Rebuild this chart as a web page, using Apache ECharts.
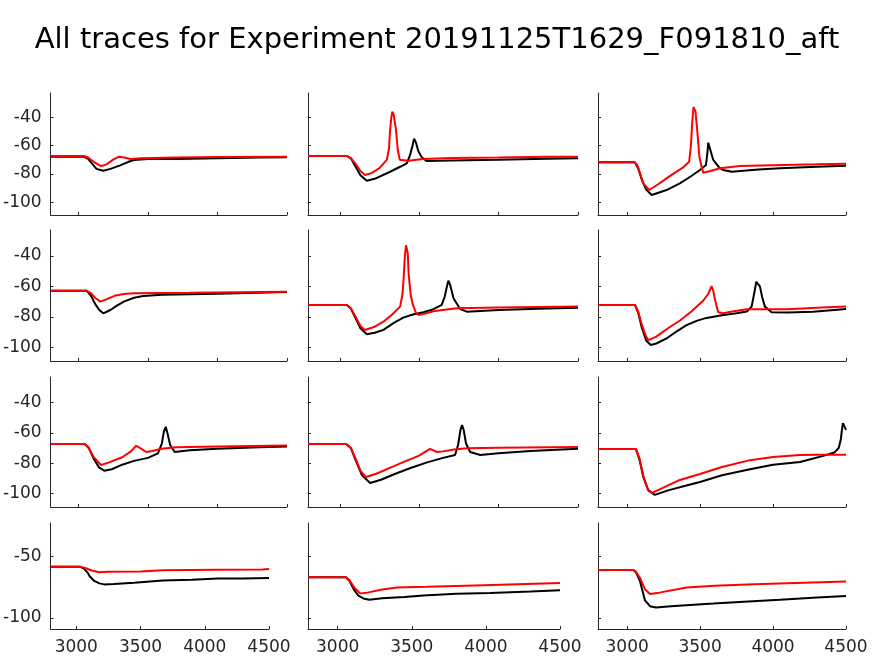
<!DOCTYPE html>
<html>
<head>
<meta charset="utf-8">
<script src="https://cdn.jsdelivr.net/npm/echarts@6/dist/echarts.min.js"></script>
<style>
html,body{margin:0;padding:0;background:#fff;}
#chart{width:874px;height:656px;}
</style>
</head>
<body>
<div id="chart"></div>
<script>
const titleText = "All traces for Experiment 20191125T1629_F091810_aft";
const xTicks = [3000, 3500, 4000, 4500];
const yTicksTop = [-100, -80, -60, -40];
const yTicksBottom = [-100, -50];

const black1 = [[2800,-68],[3040,-68],[3070,-69.5],[3100,-73],[3130,-76.5],[3179,-77.8],[3230,-76.5],[3300,-74],[3360,-71.5],[3400,-70.2],[3500,-69.5],[3700,-69.5],[4000,-69],[4300,-68.5],[4500,-68.3]];
const red1 = [[2800,-67.4],[3040,-67.4],[3070,-68.5],[3110,-71.5],[3163,-74.5],[3200,-73.5],[3250,-70],[3291,-67.9],[3330,-68.5],[3373,-69.5],[3450,-69],[3700,-68.5],[4000,-68.2],[4500,-67.9]];

const black2 = [[2800,-67.4],[3044,-67.4],[3070,-69],[3100,-75],[3130,-81],[3170,-84.8],[3220,-83.5],[3317,-78.5],[3380,-75],[3422,-72.6],[3443,-66.7],[3458,-60],[3468,-55.2],[3480,-58],[3495,-64],[3516,-68.3],[3548,-71],[3700,-70.5],[4000,-70],[4300,-69.3],[4500,-69]];
const red2 = [[2800,-67.4],[3044,-67.4],[3070,-69],[3100,-73],[3130,-78],[3159,-80.8],[3200,-79.5],[3250,-76],[3296,-70.2],[3310,-62],[3317,-49],[3325,-40],[3331,-36.2],[3340,-38.5],[3354,-49],[3365,-63],[3378,-70],[3390,-71.4],[3430,-70.8],[3525,-69.5],[3700,-68.8],[4000,-68.5],[4300,-68],[4500,-67.9]];

const black3 = [[2800,-71.9],[3053,-71.9],[3075,-76],[3100,-84],[3130,-91],[3168,-94.9],[3270,-91.4],[3361,-86.7],[3440,-81.5],[3499,-77.3],[3540,-73.8],[3550,-65],[3556,-58],[3565,-59],[3590,-70.2],[3630,-75.5],[3659,-77.3],[3716,-78.5],[3900,-77],[4047,-76],[4300,-75],[4500,-74.3]];
const red3 = [[2800,-71.9],[3053,-71.9],[3070,-74],[3088,-79.4],[3110,-86.7],[3151,-91.4],[3210,-87.5],[3270,-83.2],[3330,-79],[3384,-75.4],[3425,-71.4],[3437,-60],[3445,-45],[3455,-33],[3460,-32],[3468,-36],[3480,-49],[3495,-68],[3510,-75],[3521,-79.2],[3570,-78],[3636,-76],[3773,-74.5],[4000,-74],[4300,-73.3],[4500,-72.8]];

const black4 = [[2800,-62.8],[3058,-62.8],[3090,-66],[3120,-71.5],[3150,-75.5],[3179,-77.7],[3230,-75.5],[3280,-72.5],[3327,-70],[3400,-67.5],[3467,-66.3],[3600,-65.5],[4000,-64.8],[4500,-63.7]];
const red4 = [[2800,-62.8],[3058,-62.8],[3090,-64.5],[3120,-67.5],[3158,-70],[3200,-68.5],[3260,-66.2],[3327,-65],[3400,-64.5],[3800,-64.2],[4500,-63.5]];

const black5 = [[2800,-72.2],[3044,-72.2],[3070,-74.5],[3100,-81],[3130,-87.5],[3170,-91.4],[3220,-90.5],[3275,-88.6],[3340,-84],[3400,-80.5],[3460,-78.5],[3527,-77],[3590,-75],[3642,-72.2],[3660,-67],[3675,-60],[3684,-56.3],[3695,-59],[3716,-67.8],[3758,-74.9],[3800,-76.6],[4000,-75.5],[4300,-74.5],[4500,-74]];
const red5 = [[2800,-72.2],[3044,-72.2],[3070,-74.5],[3100,-80],[3130,-86],[3159,-88.6],[3220,-86.5],[3275,-83.2],[3330,-78.5],[3380,-73.3],[3395,-65],[3402,-55],[3410,-40],[3417,-33],[3422,-32.8],[3428,-38],[3434,-52.5],[3447,-66],[3461,-72.2],[3480,-77.5],[3497,-78.8],[3550,-77.5],[3600,-76.1],[3736,-74.4],[4000,-73.8],[4500,-73.3]];

const black6 = [[2800,-72.2],[3053,-72.2],[3075,-77],[3100,-87],[3130,-95.5],[3161,-98.5],[3200,-97.5],[3270,-94.2],[3340,-89.5],[3407,-85.5],[3480,-82.5],[3544,-80.7],[3650,-79],[3750,-77.7],[3820,-76.5],[3853,-73.3],[3870,-65],[3885,-57],[3898,-55.8],[3910,-60],[3925,-67],[3944,-73.3],[3990,-77],[4100,-77.2],[4275,-76.6],[4500,-74.9]];
const red6 = [[2800,-72.2],[3053,-72.2],[3075,-76.5],[3100,-85],[3125,-92],[3145,-95.3],[3200,-93],[3280,-87.5],[3362,-82.4],[3440,-76.5],[3522,-69.3],[3555,-65],[3579,-59.9],[3590,-63],[3605,-70],[3624,-77],[3659,-77.7],[3720,-76.5],[3819,-75],[4100,-75],[4300,-74],[4500,-73.3]];

const black7 = [[2800,-67.3],[3046,-67.3],[3075,-70],[3110,-77],[3150,-83],[3186,-85],[3240,-84],[3315,-81],[3400,-78.5],[3500,-76.5],[3572,-73.5],[3600,-67],[3615,-59],[3628,-56],[3640,-60],[3660,-68],[3692,-72.6],[3800,-71.5],[4000,-70.5],[4300,-69.5],[4500,-69]];
const red7 = [[2800,-67.3],[3046,-67.3],[3075,-70],[3110,-76],[3163,-81.2],[3220,-79.5],[3315,-76.1],[3380,-72],[3415,-68.5],[3428,-67.5],[3445,-70],[3488,-72.6],[3530,-72],[3600,-70.5],[3700,-69.5],[4000,-69],[4500,-68.3]];

const black8 = [[2800,-67.3],[3040,-67.3],[3070,-70],[3100,-78],[3140,-88],[3191,-93.1],[3260,-91],[3350,-87],[3450,-83],[3550,-79.5],[3650,-76.5],[3726,-74.6],[3745,-68],[3760,-58],[3770,-54.8],[3780,-58],[3795,-67],[3821,-72.6],[3884,-74.6],[4000,-73.5],[4200,-72],[4500,-70.5]];
const red8 = [[2800,-67.3],[3040,-67.3],[3070,-70],[3100,-77],[3130,-85],[3165,-89.2],[3230,-87],[3330,-82.5],[3430,-78],[3500,-75],[3545,-72],[3569,-70.6],[3590,-71.5],[3613,-72.6],[3650,-72.2],[3720,-71],[3800,-70.2],[4000,-69.8],[4500,-69.3]];

const black9 = [[2800,-70.6],[3060,-70.6],[3085,-78],[3110,-89],[3145,-98],[3190,-101],[3280,-98],[3400,-95],[3499,-92.5],[3650,-88],[3842,-84],[4000,-81],[4185,-79.2],[4350,-75],[4420,-73],[4450,-70],[4465,-64],[4472,-58],[4479,-53.5],[4490,-54],[4500,-58]];
const red9 = [[2800,-70.6],[3060,-70.6],[3085,-77],[3110,-88],[3140,-97],[3170,-99.7],[3230,-97],[3350,-91.5],[3499,-87.2],[3650,-82.5],[3842,-78],[4000,-76],[4185,-74.6],[4300,-74.5],[4500,-74.4]];

const black10 = [[2800,-58.4],[3028,-58.4],[3060,-60],[3090,-63.5],[3104,-66.2],[3140,-70],[3180,-72],[3217,-72.8],[3293,-72.5],[3450,-71.5],[3673,-69.7],[3900,-69],[4103,-68.1],[4300,-68],[4500,-67.6]];
const red10 = [[2800,-58.4],[3028,-58.4],[3070,-59.5],[3120,-61.5],[3179,-62.9],[3250,-62.5],[3500,-62.3],[3673,-61.3],[4100,-61],[4450,-60.8],[4500,-60.3]];

const black11 = [[2800,-67],[3056,-67],[3080,-70],[3110,-77],[3140,-82],[3180,-84.5],[3214,-85.3],[3300,-84],[3450,-83],[3578,-81.9],[3800,-80.5],[4029,-79.8],[4300,-78.5],[4500,-77.5]];
const red11 = [[2800,-67],[3056,-67],[3080,-69.5],[3110,-75],[3151,-80.1],[3200,-79.5],[3300,-77],[3399,-75.4],[3600,-74.8],[3804,-74.1],[4100,-73],[4500,-71.7]];

const black12 = [[2800,-61.1],[3042,-61.1],[3060,-63],[3088,-70.2],[3122,-85.8],[3156,-90.5],[3197,-91.6],[3300,-90.5],[3590,-88.4],[3800,-86.8],[4047,-85.3],[4300,-83.5],[4500,-82.2]];
const red12 = [[2800,-61.1],[3042,-61.1],[3060,-62.5],[3088,-67.6],[3122,-76.7],[3156,-80.6],[3220,-79.5],[3407,-75.4],[3600,-74],[3818,-72.8],[4100,-71.8],[4500,-70.5]];

const blacks = [black1,black2,black3,black4,black5,black6,black7,black8,black9,black10,black11,black12];
const reds = [red1,red2,red3,red4,red5,red6,red7,red8,red9,red10,red11,red12];

// layout (pixels)
const colLeft = [45, 308, 598];
const colWidthTop = [242, 270, 248];
const colWidthBottom = [224, 252, 248];
const rowTop = [93, 230, 377, 523];
const rowHeight = [122, 131, 130, 110];
const axisColor = '#262626';
const font = 'DejaVu Sans';

const grids = [], xAxes = [], yAxes = [], series = [];
for (let r = 0; r < 4; r++) {
  for (let c = 0; c < 3; c++) {
    const i = r * 3 + c;
    grids.push({left: colLeft[c], top: rowTop[r], width: r === 3 ? colWidthBottom[c] : colWidthTop[c], height: rowHeight[r]});
    xAxes.push({
      type: 'value', gridIndex: i, min: 2800, max: 4500,
      axisLine: {show: true, onZero: false, lineStyle: {color: axisColor, width: 1}},
      axisTick: {show: true, inside: true, length: 3, customValues: xTicks, lineStyle: {color: axisColor}},
      axisLabel: {show: r === 3, customValues: xTicks, formatter: (v) => String(v), color: axisColor, fontSize: 17, fontFamily: font, margin: 10, hideOverlap: false, showMinLabel: true, showMaxLabel: true},
      splitLine: {show: false}
    });
    const yt = r === 3 ? yTicksBottom : yTicksTop;
    yAxes.push({
      type: 'value', gridIndex: i, min: -109, max: -23,
      axisLine: {show: true, onZero: false, lineStyle: {color: axisColor, width: 1}},
      axisTick: {show: true, inside: true, length: 3, customValues: yt, lineStyle: {color: axisColor}},
      axisLabel: {show: c === 0, customValues: yt, formatter: (v) => String(v), color: axisColor, fontSize: 17, fontFamily: font, margin: 9},
      splitLine: {show: false}
    });
    series.push({type: 'line', xAxisIndex: i, yAxisIndex: i, data: blacks[i], showSymbol: false, symbol: 'none', lineStyle: {color: '#000000', width: 2}, animation: false, z: 2});
    series.push({type: 'line', xAxisIndex: i, yAxisIndex: i, data: reds[i], showSymbol: false, symbol: 'none', lineStyle: {color: '#ff0000', width: 2}, animation: false, z: 3});
  }
}

const chart = echarts.init(document.getElementById('chart'), null, {renderer: 'canvas'});
chart.setOption({
  backgroundColor: '#ffffff',
  animation: false,
  title: {text: titleText, left: 'center', top: 21, textStyle: {fontFamily: font, fontSize: 29, fontWeight: 'normal', color: '#000000'}},
  grid: grids,
  xAxis: xAxes,
  yAxis: yAxes,
  series: series
});
</script>
</body>
</html>
